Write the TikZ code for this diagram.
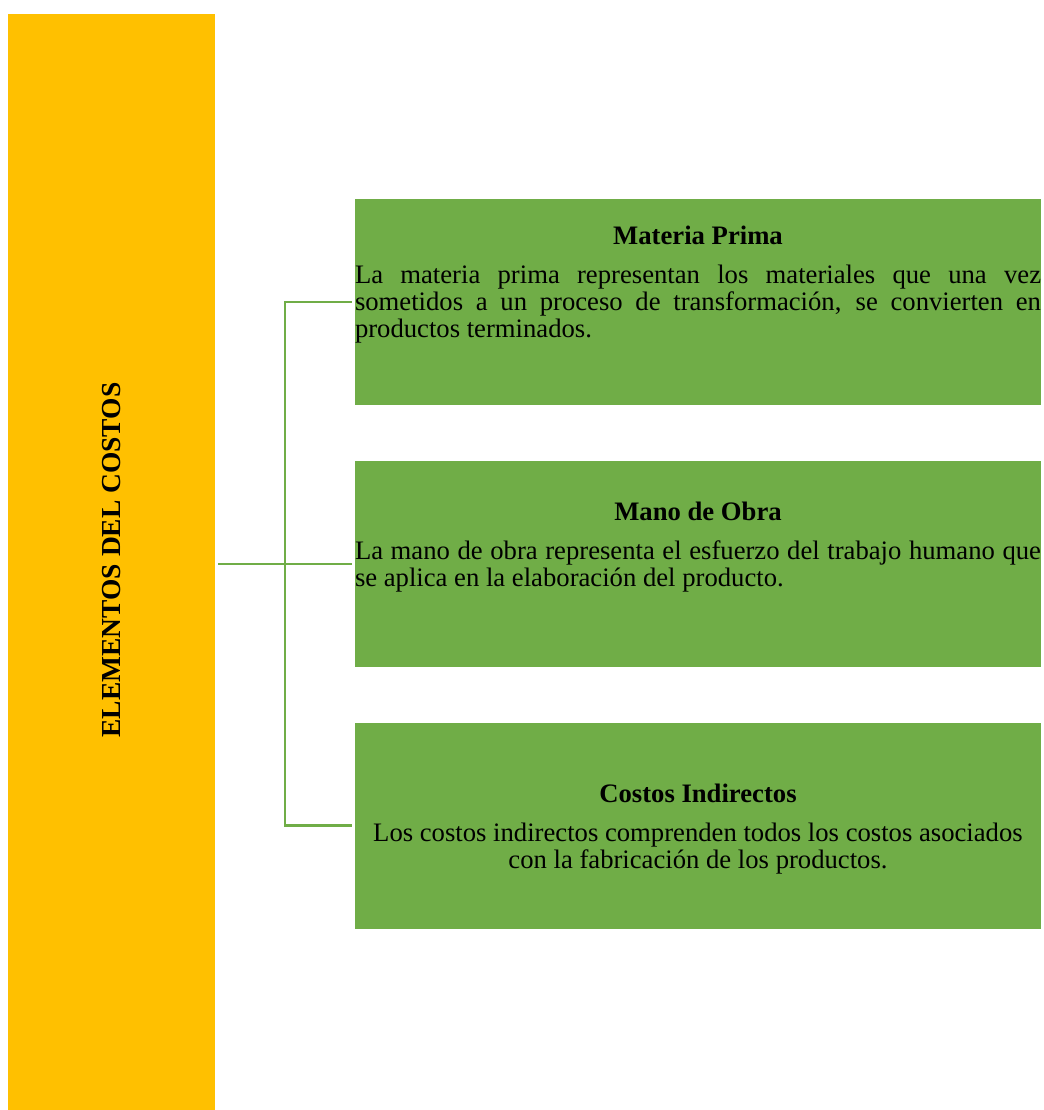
\documentclass[tikz,border=0pt]{standalone}
\usepackage{fontspec}
\setmainfont{Liberation Serif}
\usepackage{xcolor}
\definecolor{ColBar}{RGB}{255,192,0}
\definecolor{ColBox}{RGB}{112,173,71}
\tikzstyle{BarNode}=[rectangle,fill=ColBar,inner sep=0pt,minimum width=155.25pt,minimum height=825pt]
\tikzstyle{BoxNode}=[rectangle,fill=ColBox,inner sep=0pt,minimum width=514.5pt,minimum height=154.5pt]
\tikzstyle{TitleText}=[inner sep=0pt,font=\fontsize{20.6}{21}\selectfont\bfseries]
\tikzstyle{BoxText}=[inner sep=0pt,text width=514.5pt,align=justify,font=\fontsize{20}{20.25}\selectfont]
\tikzstyle{EdgeLink}=[ColBox,line width=2.2pt]
\newcommand{\BoxHead}[1]{{\centering\bfseries#1\par}\vspace{9pt}}

\begin{document}
\begin{tikzpicture}[x=.75pt,y=-.75pt]
        \useasboundingbox(0,0)rectangle(1044,1110);
        \node[BarNode](bar)at(111.5,564){};
        \node[TitleText,rotate=90](title)at(111.5,560){ELEMENTOS DEL COSTOS};
        \node[BoxNode](mp)at(698,302){};
        \node[BoxNode](mo)at(698,564){};
        \node[BoxNode](ci)at(698,825.5){};
        \node[BoxText,anchor=base](mptext)at(698,244.5){\BoxHead{Materia Prima}La materia prima representan los materiales que una vez\linebreak sometidos a un proceso de transformación, se convierten en\linebreak productos terminados.};
        \node[BoxText,anchor=base](motext)at(698,520){\BoxHead{Mano de Obra}La mano de obra representa el esfuerzo del trabajo humano que\linebreak se aplica en la elaboración del producto.};
        \node[BoxText,anchor=base,align=flush center](citext)at(698,802){\BoxHead{Costos Indirectos}Los costos indirectos comprenden todos los costos asociados\\con la fabricación de los productos.};
        \coordinate(fork)at(285,564);
        \draw[EdgeLink,shorten <=2.25pt](bar.east)--(fork);
        \draw[EdgeLink,shorten >=2.25pt](fork)|-(mp.west);
        \draw[EdgeLink,shorten >=2.25pt](fork)--(mo.west);
        \draw[EdgeLink,shorten >=2.25pt](fork)|-(ci.west);
    \end{tikzpicture}
\end{document}
